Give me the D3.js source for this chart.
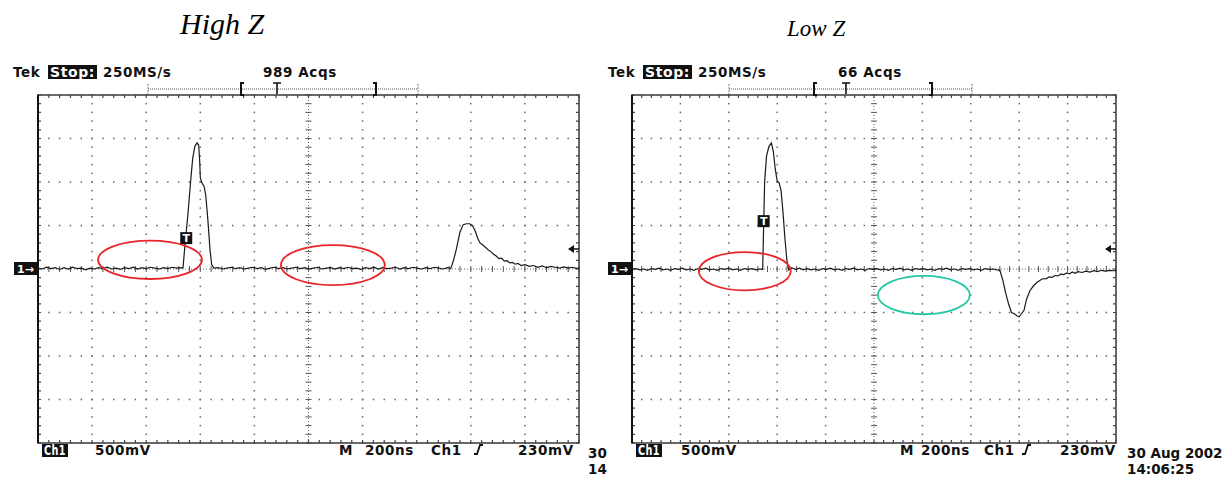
<!DOCTYPE html>
<html>
<head>
<meta charset="utf-8">
<script src="https://cdn.jsdelivr.net/npm/d3@7"></script>
<style>
  body { margin: 0; background: #fff; }
  text { font-family: "DejaVu Sans", sans-serif; }
</style>
</head>
<body>
<svg id="canvas"></svg>
<script>
let width = 1229;
let height = 478;

// chart values, in scope divisions (time 0..10, volts -4..4)
let titles = ["High Z", "Low Z"];
let acqLabels = ["989 Acqs", "66 Acqs"];
let rateLabel = "250MS/s";
let voltLabel = "500mV";
let timeLabel = "200ns";
let trigLabel = "230mV";
let dateLines = [["30", "14"], ["30 Aug 2002", "14:06:25"]];
let trigLevel = 0.46; // 230mV at 500mV/div

let highZTrace = [
  [0.00, 0.02], [0.08, 0.00], [0.16, 0.04], [0.24, 0.01], [0.32, 0.03], [0.40, -0.01], [0.48, 0.03],
  [0.56, 0.00], [0.64, 0.04], [0.72, 0.01], [0.80, 0.02], [0.88, -0.02], [0.96, 0.02], [1.04, 0.00],
  [1.12, 0.03], [1.20, 0.01], [1.28, 0.04], [1.36, 0.00], [1.44, 0.02], [1.52, -0.01], [1.60, 0.03],
  [1.68, 0.01], [1.76, 0.04], [1.84, 0.00], [1.92, 0.03], [2.00, 0.01], [2.08, 0.04], [2.16, 0.02],
  [2.24, 0.00], [2.32, 0.03], [2.40, 0.01], [2.48, 0.04], [2.56, 0.02], [2.64, 0.03], [2.68, 0.02],
  [2.72, 0.60], [2.77, 1.24], [2.82, 2.00], [2.86, 2.55], [2.90, 2.82], [2.94, 2.90], [2.97, 2.85],
  [2.99, 2.45], [3.00, 2.10], [3.03, 1.98], [3.07, 1.90], [3.10, 1.70], [3.14, 1.13], [3.18, 0.44],
  [3.21, 0.10], [3.25, 0.02],
  [3.33, 0.03], [3.41, 0.00], [3.49, 0.02], [3.57, 0.04], [3.65, 0.01], [3.73, 0.03], [3.81, 0.00],
  [3.89, 0.02], [3.97, 0.04], [4.05, 0.01], [4.13, 0.03], [4.21, -0.01], [4.29, 0.02], [4.37, 0.04],
  [4.45, 0.01], [4.53, 0.03], [4.61, 0.00], [4.69, 0.02], [4.77, 0.04], [4.85, 0.01], [4.93, 0.03],
  [5.01, 0.00], [5.09, 0.02], [5.17, 0.04], [5.25, 0.00], [5.33, 0.02], [5.41, 0.03], [5.49, 0.00],
  [5.57, 0.03], [5.65, 0.01], [5.73, 0.04], [5.81, 0.01], [5.89, 0.02], [5.97, -0.01], [6.05, 0.03],
  [6.13, 0.01], [6.21, 0.04], [6.29, 0.00], [6.37, 0.03], [6.45, 0.01], [6.53, 0.02], [6.61, 0.04],
  [6.69, 0.00], [6.77, 0.03], [6.85, 0.01], [6.93, 0.04], [7.01, 0.02], [7.09, 0.00], [7.17, 0.03],
  [7.25, 0.01], [7.33, 0.04], [7.41, 0.02], [7.49, 0.00], [7.57, 0.03], [7.63, 0.01],
  [7.68, 0.20], [7.73, 0.44], [7.80, 0.85], [7.86, 1.02], [7.92, 1.04], [7.98, 1.04], [8.03, 1.00],
  [8.08, 0.88], [8.13, 0.70], [8.17, 0.60], [8.22, 0.55], [8.27, 0.50], [8.32, 0.44], [8.37, 0.40],
  [8.42, 0.34], [8.47, 0.30], [8.52, 0.24], [8.57, 0.25], [8.62, 0.18], [8.67, 0.19], [8.72, 0.14],
  [8.77, 0.15], [8.82, 0.11], [8.87, 0.13], [8.93, 0.08], [9.00, 0.10], [9.08, 0.06], [9.16, 0.08],
  [9.24, 0.04], [9.32, 0.07], [9.40, 0.03], [9.48, 0.06], [9.56, 0.04], [9.64, 0.02], [9.72, 0.05],
  [9.80, 0.02], [9.88, 0.04], [9.96, 0.01], [10.0, 0.03]
];

let lowZTrace = [
  [0.00, -0.01], [0.08, 0.01], [0.16, -0.02], [0.24, 0.00], [0.32, -0.03], [0.40, 0.01], [0.48, -0.01],
  [0.56, 0.02], [0.64, -0.02], [0.72, 0.00], [0.80, -0.03], [0.88, 0.01], [0.96, -0.01], [1.04, 0.02],
  [1.12, -0.02], [1.20, 0.00], [1.28, -0.03], [1.36, 0.01], [1.44, -0.01], [1.52, 0.02], [1.60, -0.02],
  [1.68, 0.00], [1.76, -0.03], [1.84, 0.01], [1.92, -0.01], [2.00, 0.02], [2.08, -0.02], [2.16, 0.00],
  [2.24, -0.03], [2.32, 0.01], [2.40, -0.01], [2.48, 0.01], [2.56, -0.02], [2.64, 0.00], [2.70, -0.01],
  [2.72, 1.00], [2.74, 2.00], [2.78, 2.60], [2.83, 2.82], [2.88, 2.90], [2.92, 2.70], [2.96, 2.30],
  [3.00, 2.02], [3.04, 1.98], [3.08, 1.80], [3.12, 1.30], [3.16, 0.70], [3.20, 0.20], [3.24, -0.02],
  [3.30, 0.03], [3.38, -0.01], [3.46, 0.02], [3.54, -0.02], [3.62, 0.01], [3.70, -0.02], [3.78, 0.00],
  [3.86, -0.03], [3.94, 0.01], [4.02, -0.01], [4.10, 0.02], [4.18, -0.02], [4.26, 0.00], [4.34, -0.03],
  [4.42, 0.01], [4.50, -0.01], [4.58, 0.02], [4.66, -0.02], [4.74, 0.00], [4.82, -0.03], [4.90, 0.01],
  [4.98, -0.01], [5.06, 0.01], [5.14, -0.02], [5.22, 0.00], [5.30, -0.03], [5.38, 0.01], [5.46, -0.01],
  [5.54, 0.02], [5.62, -0.02], [5.70, 0.00], [5.78, -0.03], [5.86, 0.01], [5.94, -0.01], [6.02, 0.01],
  [6.10, -0.02], [6.18, 0.00], [6.26, -0.03], [6.34, 0.01], [6.42, -0.01], [6.50, 0.02], [6.58, -0.02],
  [6.66, 0.00], [6.74, -0.03], [6.82, 0.01], [6.90, -0.01], [6.98, 0.01], [7.06, -0.02], [7.14, 0.00],
  [7.22, -0.03], [7.30, 0.01], [7.38, -0.01], [7.46, 0.00], [7.54, -0.02], [7.60, -0.03],
  [7.66, -0.25], [7.72, -0.55], [7.78, -0.80], [7.84, -1.00], [7.90, -1.03], [7.96, -1.08], [8.00, -1.10],
  [8.04, -1.04], [8.10, -0.95], [8.15, -0.70], [8.22, -0.50], [8.30, -0.38], [8.38, -0.30], [8.47, -0.23],
  [8.56, -0.22], [8.62, -0.18], [8.68, -0.19], [8.74, -0.15], [8.80, -0.16], [8.86, -0.12], [8.92, -0.13],
  [8.98, -0.09], [9.04, -0.11], [9.10, -0.07], [9.16, -0.10], [9.22, -0.06], [9.30, -0.08], [9.38, -0.05],
  [9.46, -0.07], [9.54, -0.04], [9.62, -0.06], [9.70, -0.03], [9.78, -0.05], [9.86, -0.03], [9.94, -0.04],
  [10.0, -0.03]
];

// trigger marker "T" on each trace
let trigMarks = [[2.74, 0.71], [2.72, 1.10]];

// hand-drawn rings: [t, v, rt, rv, colour]
let highZRings = [[2.07, 0.21, 0.96, 0.44, "#e8262a"], [5.45, 0.09, 0.96, 0.46, "#e8262a"]];
let lowZRings = [[2.33, -0.05, 0.95, 0.44, "#e8262a"], [6.03, -0.60, 0.95, 0.44, "#22c9a4"]];

let panels = [
  { x0: 38, x1: 579, trace: highZTrace, rings: highZRings, mark: trigMarks[0],
    titleX: 180, titleY: 34, titleSize: 30,
    tekX: 13, stopX: 48, rateX: 103, acqX: 263, bar: [148, 418], brL: 240, brT: 277, brR: 377,
    chX: 42, voltX: 95, mX: 339, tbX: 365, ch2X: 431, slopeX: 474, trigX: 518, dateX: 588 },
  { x0: 632, x1: 1116, trace: lowZTrace, rings: lowZRings, mark: trigMarks[1],
    titleX: 787, titleY: 36, titleSize: 23,
    tekX: 608, stopX: 643, rateX: 698, acqX: 838, bar: [729, 972], brL: 813, brT: 846, brR: 933,
    chX: 636, voltX: 681, mX: 900, tbX: 921, ch2X: 984, slopeX: 1022, trigX: 1060, dateX: 1127 }
];

let gridTop = 95;
let gridBottom = 443;

let canvas = d3.select("#canvas");
canvas.attr("width", width);
canvas.attr("height", height);

let drawPanel = (p, i) => {
  let xScale = d3.scaleLinear().domain([0, 10]).range([p.x0, p.x1]);
  let yScale = d3.scaleLinear().domain([-4, 4]).range([gridBottom, gridTop]);
  let g = canvas.append("g");

  let minorT = d3.range(0, 10.001, 0.2);
  let minorV = d3.range(-4, 4.001, 0.2);

  // dotted major grid
  d3.range(1, 10).filter((d) => d !== 5).forEach((t) => {
    g.selectAll(null).data(minorV).enter().append("rect")
      .attr("x", xScale(t) - 0.75).attr("y", (v) => yScale(v) - 0.75)
      .attr("width", 1.5).attr("height", 1.5).attr("fill", "#666");
  });
  d3.range(-3, 4).filter((d) => d !== 0).forEach((v) => {
    g.selectAll(null).data(minorT).enter().append("rect")
      .attr("x", (t) => xScale(t) - 0.75).attr("y", yScale(v) - 0.75)
      .attr("width", 1.5).attr("height", 1.5).attr("fill", "#666");
  });

  // centre cross
  g.append("line").attr("x1", xScale(0)).attr("x2", xScale(10))
    .attr("y1", yScale(0)).attr("y2", yScale(0))
    .attr("stroke", "#666").attr("stroke-width", 1).attr("stroke-dasharray", "1,2");
  g.append("line").attr("x1", xScale(5)).attr("x2", xScale(5))
    .attr("y1", yScale(-4)).attr("y2", yScale(4))
    .attr("stroke", "#666").attr("stroke-width", 1).attr("stroke-dasharray", "1,2");
  g.selectAll(null).data(minorT).enter().append("line")
    .attr("x1", (t) => xScale(t)).attr("x2", (t) => xScale(t))
    .attr("y1", yScale(0) - 3).attr("y2", yScale(0) + 3)
    .attr("stroke", "#555").attr("stroke-width", 1);
  g.selectAll(null).data(minorV).enter().append("line")
    .attr("x1", xScale(5) - 3).attr("x2", xScale(5) + 3)
    .attr("y1", (v) => yScale(v)).attr("y2", (v) => yScale(v))
    .attr("stroke", "#555").attr("stroke-width", 1);

  // border ticks
  g.selectAll(null).data(minorT).enter().append("path")
    .attr("d", (t) => "M" + xScale(t) + "," + gridTop + "v3M" + xScale(t) + "," + gridBottom + "v-3")
    .attr("stroke", "#444").attr("stroke-width", 1.2);
  g.selectAll(null).data(minorV).enter().append("path")
    .attr("d", (v) => "M" + p.x0 + "," + yScale(v) + "h3M" + p.x1 + "," + yScale(v) + "h-3")
    .attr("stroke", "#444").attr("stroke-width", 1.2);

  // frame
  g.append("rect").attr("x", p.x0).attr("y", gridTop)
    .attr("width", p.x1 - p.x0).attr("height", gridBottom - gridTop)
    .attr("fill", "none").attr("stroke", "#444").attr("stroke-width", 1.6);
  g.append("line").attr("x1", p.x0).attr("x2", p.x0).attr("y1", gridTop).attr("y2", gridBottom)
    .attr("stroke", "#111").attr("stroke-width", 2);

  // trace
  let line = d3.line().x((d) => xScale(d[0])).y((d) => yScale(d[1]));
  g.append("path").datum(p.trace).attr("d", line)
    .attr("fill", "none").attr("stroke", "#1a1a1a").attr("stroke-width", 1.2);

  // trigger "T" marker
  g.append("rect").attr("x", xScale(p.mark[0]) - 6).attr("y", yScale(p.mark[1]) - 6)
    .attr("width", 12).attr("height", 12).attr("fill", "#111");
  g.append("text").attr("x", xScale(p.mark[0])).attr("y", yScale(p.mark[1]) + 4)
    .attr("text-anchor", "middle").attr("fill", "#fff")
    .attr("font-size", 11).attr("font-weight", "bold").text("T");

  // rings
  g.selectAll(null).data(p.rings).enter().append("ellipse")
    .attr("cx", (d) => xScale(d[0])).attr("cy", (d) => yScale(d[1]))
    .attr("rx", (d) => xScale(d[2]) - xScale(0)).attr("ry", (d) => yScale(0) - yScale(d[3]))
    .attr("fill", "none").attr("stroke", (d) => d[4]).attr("stroke-width", 1.8);

  // channel marker "1->" at ground level
  g.append("rect").attr("x", p.x0 - 24).attr("y", yScale(0) - 7)
    .attr("width", 23).attr("height", 13).attr("fill", "#111");
  g.append("text").attr("x", p.x0 - 21).attr("y", yScale(0) + 4)
    .attr("fill", "#fff").attr("font-size", 11).attr("font-weight", "bold").text("1\u2192");

  // trigger level arrow
  let ty = yScale(trigLevel);
  g.append("path")
    .attr("d", "M" + (p.x1 - 11) + "," + ty + "l6,-4v8z")
    .attr("fill", "#111");
  g.append("line").attr("x1", p.x1 - 6).attr("x2", p.x1).attr("y1", ty).attr("y2", ty)
    .attr("stroke", "#111").attr("stroke-width", 1.5);

  // title
  g.append("text").attr("x", p.titleX).attr("y", p.titleY)
    .style("font-family", "'Liberation Serif', serif").style("font-style", "italic")
    .attr("font-size", p.titleSize).text(titles[i]);

  // header
  let small = (x, y, s, fill, spacing) =>
    g.append("text").attr("x", x).attr("y", y).attr("fill", fill || "#111")
      .attr("font-size", 13.5).attr("font-weight", "bold")
      .attr("letter-spacing", spacing === undefined ? 0.6 : spacing).text(s);
  small(p.tekX, 77, "Tek");
  g.append("rect").attr("x", p.stopX).attr("y", 65).attr("width", 49).attr("height", 14).attr("fill", "#111");
  small(p.stopX + 2, 77, "Stop:", "#fff").attr("textLength", 45).attr("lengthAdjust", "spacingAndGlyphs");
  small(p.rateX, 77, rateLabel);
  small(p.acqX, 77, acqLabels[i]);

  // record bar
  g.append("line").attr("x1", p.bar[0]).attr("x2", p.bar[1]).attr("y1", 89).attr("y2", 89)
    .attr("stroke", "#555").attr("stroke-width", 1).attr("stroke-dasharray", "1,1");
  p.bar.forEach((bx) => {
    g.append("line").attr("x1", bx).attr("x2", bx).attr("y1", 84).attr("y2", 94)
      .attr("stroke", "#777").attr("stroke-width", 1).attr("stroke-dasharray", "2,1");
  });
  g.append("path")
    .attr("d", "M" + (p.brL + 4) + ",83h-3v12h3M" + (p.brR - 4) + ",83h3v12h-3")
    .attr("fill", "none").attr("stroke", "#111").attr("stroke-width", 2);
  g.append("path")
    .attr("d", "M" + (p.brT - 4) + ",83h8M" + p.brT + ",83v11")
    .attr("fill", "none").attr("stroke", "#111").attr("stroke-width", 1.6);

  // footer
  g.append("rect").attr("x", p.chX).attr("y", 444).attr("width", 26).attr("height", 13).attr("fill", "#111");
  small(p.chX + 2, 455, "Ch1", "#fff").attr("textLength", 22).attr("lengthAdjust", "spacingAndGlyphs");
  small(p.voltX, 455, voltLabel);
  small(p.mX, 455, "M");
  small(p.tbX, 455, timeLabel);
  small(p.ch2X, 455, "Ch1");
  g.append("path")
    .attr("d", "M" + p.slopeX + ",454h3l3,-9h3")
    .attr("fill", "none").attr("stroke", "#111").attr("stroke-width", 1.8);
  small(p.trigX, 455, trigLabel);
  small(p.dateX, 458, dateLines[i][0], "#111", 0);
  small(p.dateX, 474, dateLines[i][1], "#111", 0);
};

panels.forEach(drawPanel);
</script>
</body>
</html>
